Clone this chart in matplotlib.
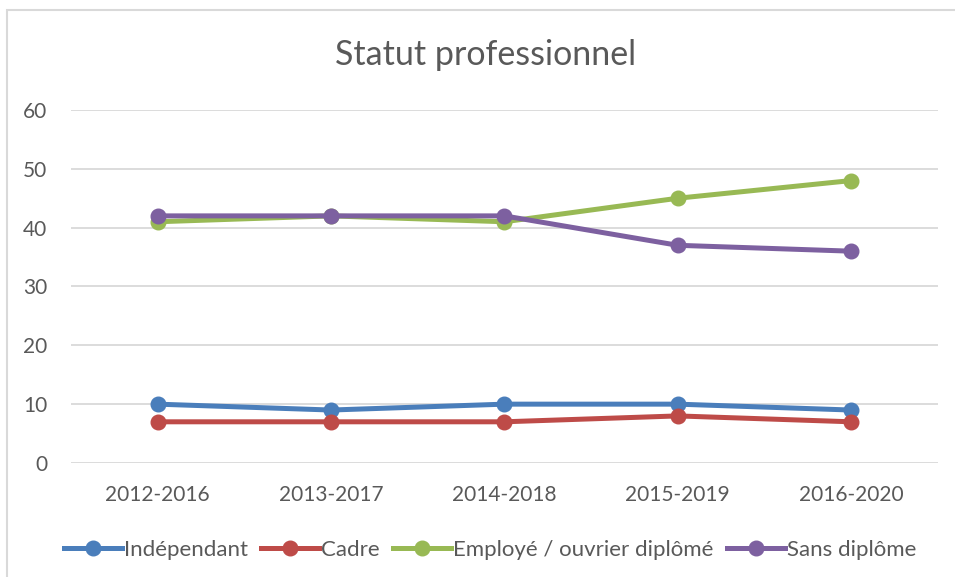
import matplotlib.pyplot as plt
from matplotlib.patches import Rectangle

plt.rcParams['font.family'] = ['Lato', 'DejaVu Sans']

periods = ['2012-2016', '2013-2017', '2014-2018', '2015-2019', '2016-2020']
independant = [10, 9, 10, 10, 9]
cadre = [7, 7, 7, 8, 7]
employe = [41, 42, 41, 45, 48]
sans_diplome = [42, 42, 42, 37, 36]

series = [
    ('Indépendant', independant, '#4a7ebb'),
    ('Cadre', cadre, '#be4b48'),
    ('Employé / ouvrier diplômé', employe, '#98b954'),
    ('Sans diplôme', sans_diplome, '#7d60a0'),
]

fig = plt.figure(figsize=(9.55, 5.77), dpi=100)
ax = fig.add_axes([0.0743, 0.1976, 0.9077, 0.6118])

x = range(len(periods))
for name, vals, col in series:
    ax.plot(x, vals, color=col, lw=3.6, marker='o', markersize=10.5, label=name)

ax.set_xlim(-0.5, len(periods) - 0.5)
ax.set_ylim(0, 60)
ax.set_yticks(range(0, 61, 10))
ax.set_xticks(list(x))
ax.set_xticklabels(periods)
ax.grid(axis='y', color='#d9d9d9', lw=1.3)
ax.set_axisbelow(True)
for s in ax.spines.values():
    s.set_visible(False)
ax.tick_params(length=0, labelsize=15, colors='#595959', pad=16)
ax.tick_params(axis='y', pad=17)

fig.text(0.508, 0.905, 'Statut professionnel', ha='center', va='center', fontsize=24.5, color='#595959')

fig.legend(loc='center', bbox_to_anchor=(0.513, 0.047), ncol=4, frameon=False, fontsize=16,
           labelcolor='#595959', handlelength=2.6, handletextpad=0.1, columnspacing=0.6)

fig.patches.append(Rectangle((7 / 955, -0.1), 1.2, 1.1 - 10 / 577, transform=fig.transFigure,
                             fill=False, edgecolor='#d9d9d9', lw=1.5))

fig.savefig('out.png', dpi=100)
